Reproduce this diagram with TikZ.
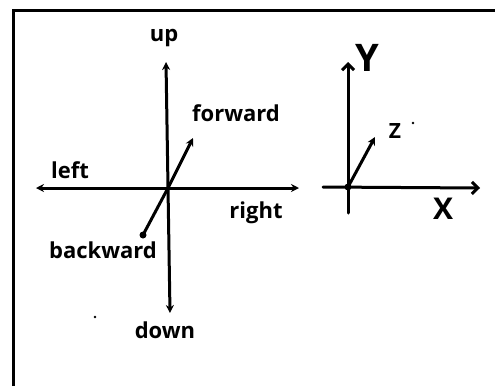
\documentclass[tikz,border=0pt]{standalone}
\usepackage{fontspec}
\setmainfont{Open Sans}
\usetikzlibrary{arrows.meta}
\begin{document}
\begin{tikzpicture}[x=1pt,y=-1pt,
  axis/.style={line width=3pt, line cap=round},
  tipf/.style={-{Stealth[length=8pt,width=8pt]}},
  tipb/.style={{Stealth[length=8pt,width=8pt]}-{Stealth[length=8pt,width=8pt]}},
  tipo/.style={-{Straight Barb[length=6pt,width=12pt,line width=3pt]}},
  lbl/.style={inner sep=0pt, font=\fontsize{22}{24}\selectfont\bfseries},
  biglbl/.style={inner sep=0pt}]
\useasboundingbox (0,0) rectangle (495,386);
% frame
\draw[line width=3pt] (13,386) -- (13,10) -- (495,10);
% left axes
\coordinate (O) at (168,188);
\coordinate (U) at (166,62);
\coordinate (D) at (170,313);
\coordinate (L) at (36,188);
\coordinate (R) at (299,188);
\coordinate (F) at (193,138);
\coordinate (B) at (143,235);
\draw[axis,tipb] (L) -- (R);
\draw[axis,tipb] (U) -- (D);
\draw[axis,tipf] (O) -- (F);
\draw[axis] (O) -- (B);
\fill (B) circle (3.5pt);
\node[lbl] (tup) at (164,38) {up};
\node[lbl] (tfw) at (236,113) {forward};
\node[lbl] (tlf) at (70,170) {left};
\node[lbl] (trt) at (256,213) {right};
\node[lbl] (tbw) at (103,250) {backward};
\node[lbl] (tdn) at (165,330) {down};
% right axes
\coordinate (O2) at (348,187);
\coordinate (Y2) at (348,62);
\coordinate (Yb) at (348,213);
\coordinate (Xa) at (323,187);
\coordinate (X2) at (480,188);
\coordinate (Z2) at (375,137);
\draw[axis,tipo] (Yb) -- (Y2);
\draw[axis,tipo] (Xa) -- (X2);
\draw[axis,tipf] (O2) -- (Z2);
\fill (O2) circle (3.5pt);
\node[biglbl, font=\fontsize{38}{40}\selectfont\bfseries] (tY) at (367,58) {Y};
\node[biglbl, font=\fontsize{21}{24}\selectfont\bfseries] (tZ) at (395,131) {Z};
\node[biglbl, font=\fontsize{30}{32}\selectfont\bfseries] (tX) at (443,209) {X};
% stray dots
\fill (413,123) circle (1.3pt);
\fill (95,317) circle (1.3pt);
\end{tikzpicture}
\end{document}
